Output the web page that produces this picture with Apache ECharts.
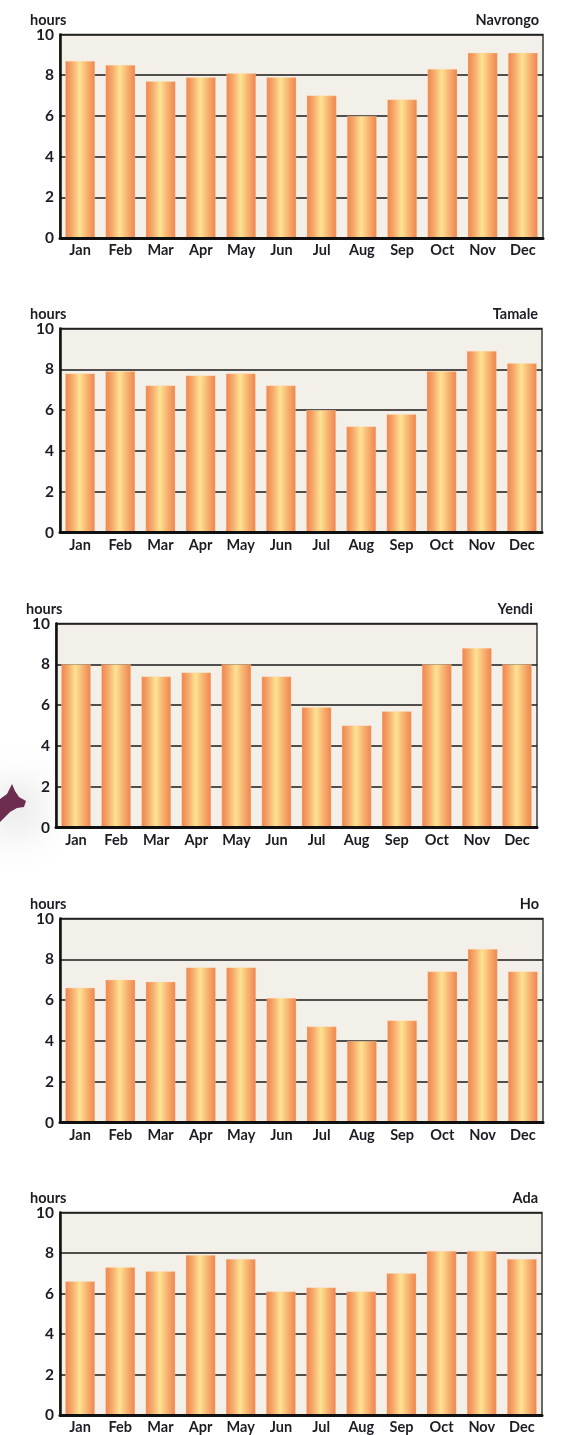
<!DOCTYPE html>
<html>
<head>
<meta charset="utf-8">
<title>Monthly sunshine hours</title>
<script src="https://cdn.jsdelivr.net/npm/echarts@6/dist/echarts.min.js"></script>
<style>
  html, body { margin: 0; padding: 0; background: #ffffff; }
  #chart { width: 561px; height: 1435px; }
</style>
</head>
<body>
<div id="chart"></div>
<script>
// Month categories shared by every station
const months = ['Jan', 'Feb', 'Mar', 'Apr', 'May', 'Jun', 'Jul', 'Aug', 'Sep', 'Oct', 'Nov', 'Dec'];

// Mean daily sunshine (hours) per station
const navrongo = [8.7, 8.5, 7.7, 7.9, 8.1, 7.9, 7.0, 6.0, 6.8, 8.3, 9.1, 9.1];
const tamale   = [7.8, 7.9, 7.2, 7.7, 7.8, 7.2, 6.0, 5.2, 5.8, 7.9, 8.9, 8.3];
const yendi    = [8.0, 8.0, 7.4, 7.6, 8.0, 7.4, 5.9, 5.0, 5.7, 8.0, 8.8, 8.0];
const ho       = [6.6, 7.0, 6.9, 7.6, 7.6, 6.1, 4.7, 4.0, 5.0, 7.4, 8.5, 7.4];
const ada      = [6.6, 7.3, 7.1, 7.9, 7.7, 6.1, 6.3, 6.1, 7.0, 8.1, 8.1, 7.7];

const stations = ['Navrongo', 'Tamale', 'Yendi', 'Ho', 'Ada'];
const stationValues = [navrongo, tamale, yendi, ho, ada];

// Y axis scale
const yMin = 0, yMax = 10, yStep = 2;

// Panel placement in page pixels (left edge, plot top, plot width, plot height)
const panels = [
  { left: 60, top: 34.5, width: 483, height: 203.5 },
  { left: 60, top: 328.5, width: 482, height: 204 },
  { left: 56, top: 623.5, width: 481, height: 204 },
  { left: 60, top: 918.5, width: 483, height: 204 },
  { left: 60, top: 1212.5, width: 482, height: 203 }
];

const textColor = '#1c1c24';
const fontFamily = 'Lato, "Open Sans", sans-serif';

const barGradient = {
  type: 'linear', x: 0, y: 0, x2: 1, y2: 0,
  colorStops: [
    { offset: 0, color: '#ee844d' },
    { offset: 0.22, color: '#f6a86a' },
    { offset: 0.48, color: '#fee393' },
    { offset: 0.75, color: '#f7ae6d' },
    { offset: 1, color: '#ee844d' }
  ]
};

const grids = [], xAxes = [], yAxes = [], series = [], titles = [];

panels.forEach((p, i) => {
  grids.push({
    left: p.left, top: p.top, width: p.width, height: p.height,
    show: true,
    backgroundColor: '#f3f0ea',
    borderColor: '#3a3a3a',
    borderWidth: 1.5
  });
  xAxes.push({
    type: 'category',
    gridIndex: i,
    data: months,
    z: 5,
    axisLine: { show: true, lineStyle: { color: '#111', width: 3 } },
    axisTick: { show: false },
    axisLabel: {
      color: textColor, fontFamily, fontWeight: 'bold', fontSize: 14.5,
      margin: 5, interval: 0
    },
    splitLine: { show: false }
  });
  yAxes.push({
    type: 'value',
    gridIndex: i,
    min: yMin, max: yMax, interval: yStep,
    axisLine: { show: true, lineStyle: { color: '#111', width: 2.5 } },
    axisTick: { show: false },
    axisLabel: {
      color: textColor, fontFamily, fontWeight: 'bold', fontSize: 15.5,
      margin: 6
    },
    splitLine: { show: true, lineStyle: { color: '#1a1a1a', width: 1.5 } }
  });
  series.push({
    type: 'bar',
    name: stations[i],
    xAxisIndex: i,
    yAxisIndex: i,
    data: stationValues[i],
    barWidth: '74%',
    itemStyle: { color: barGradient, borderColor: 'rgba(255,220,180,0.6)', borderWidth: 0.5 },
    silent: true,
    animation: false
  });
  titles.push({
    text: 'hours',
    left: p.left - 35,
    top: p.top - 27,
    textStyle: { color: textColor, fontFamily, fontWeight: 'bold', fontSize: 14.5 }
  });
  titles.push({
    text: stations[i],
    right: 561 - (p.left + p.width) - 1,
    top: p.top - 27,
    textStyle: { color: textColor, fontFamily, fontWeight: 'bold', fontSize: 14.5 }
  });
});

const chart = echarts.init(document.getElementById('chart'), null, { renderer: 'canvas' });
chart.setOption({
  animation: false,
  backgroundColor: '#ffffff',
  title: titles,
  grid: grids,
  xAxis: xAxes,
  yAxis: yAxes,
  series: series,
  graphic: [
    {
      // decorative ribbon tip at the left margin
      type: 'polygon',
      z: -1,
      shape: {
        points: [[0, 799], [7, 794], [12, 784], [15, 791], [19, 797], [26, 801], [24, 807], [17, 808], [10, 812], [3, 819], [0, 822]]
      },
      style: {
        fill: '#6c2d50',
        shadowBlur: 45,
        shadowColor: 'rgba(0,0,0,0.5)',
        shadowOffsetX: 6,
        shadowOffsetY: 6
      }
    }
  ]
});
</script>
</body>
</html>
